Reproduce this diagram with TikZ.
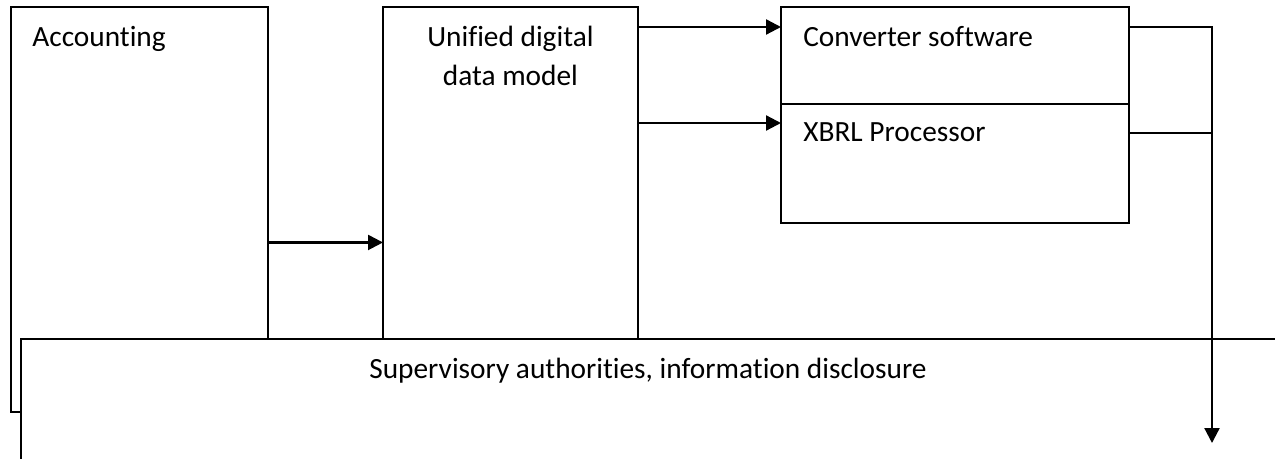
\documentclass[tikz,border=0pt]{standalone}
\usepackage{fontspec}
\setmainfont{Carlito}[Ligatures=NoCommon]
\usetikzlibrary{arrows.meta, positioning, calc}

\begin{document}
\begin{tikzpicture}[x=0.02cm, y=-0.02cm,
    box/.style={draw, line width=1.3pt, fill=white, inner sep=0pt, outer sep=0pt, anchor=north west},
    txt/.style={font=\fontsize{16.7}{22.5}\selectfont, inner sep=0pt},
    arr/.style={line width=1.3pt, -{Triangle[length=0.3cm, width=0.3cm]}},
    link/.style={line width=1.3pt}]
  \clip (0,0) rectangle (1275,459);

  % Boxes behind
  \node[box, minimum width=5.14cm, minimum height=8.1cm] (acc) at (11,7) {};
  \node[box, minimum width=5.1cm, minimum height=8.1cm] (uni) at (383,7) {};

  % Bottom box, over the others
  \node[box, minimum width=26cm, minimum height=3cm] (sup) at (21,339) {};

  % Converter and processor
  \node[box, minimum width=6.96cm, minimum height=1.94cm] (conv) at (781,7) {};
  \node[box, minimum width=6.96cm, minimum height=2.38cm] (xbrl) at (781,104) {};

  % Labels
  \node[txt, anchor=base west] (acctxt) at ($(acc.north west)+(21,40)$) {Accounting};
  \node[txt, anchor=base, align=center] (unitxt) at ($(uni.north)+(0,79)$) {Unified digital\\data model};
  \node[txt, anchor=base west] (convtxt) at ($(conv.north west)+(22,40)$) {Converter software};
  \node[txt, anchor=base west] (xbrltxt) at ($(xbrl.north west)+(22,38)$) {XBRL Processor};
  \node[txt, anchor=base west] (suptxt) at ($(sup.north west)+(348,39)$) {Supervisory authorities, information disclosure};

  % Connectors
  \coordinate (join) at (1212,133);
  \coordinate (drop) at (1212,443);
  \draw[arr] ($(acc.east)+(0,33)$) -- ($(uni.west)+(0,33)$);
  \draw[arr] ($(uni.north east)+(0,20)$) -- ($(conv.north west)+(0,20)$);
  \draw[arr] ($(uni.north east)+(0,116)$) -- ($(xbrl.north west)+(0,19)$);
  \draw[arr] ($(conv.north east)+(0,20)$) -| (drop);
  \draw[link] ($(xbrl.north east)+(0,29)$) -- (join);
\end{tikzpicture}
\end{document}
